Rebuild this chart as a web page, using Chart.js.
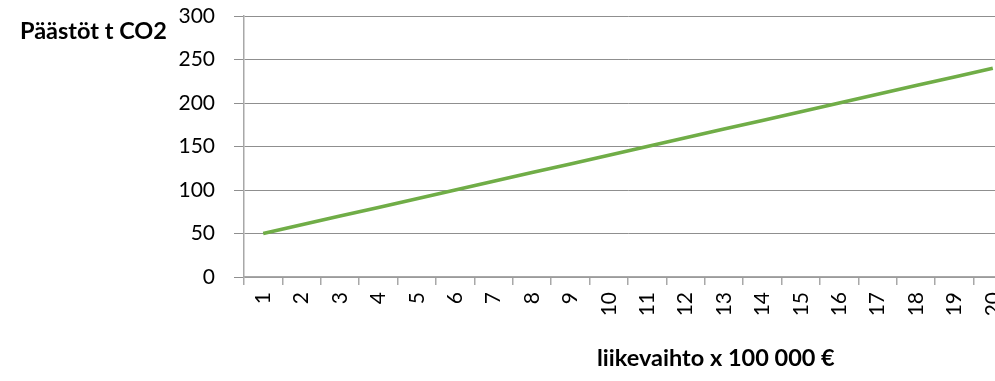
<!DOCTYPE html>
<html>
<head>
<meta charset="utf-8">
<script src="https://cdn.jsdelivr.net/npm/chart.js@4/dist/chart.umd.min.js"></script>
<style>
  html, body { margin: 0; padding: 0; background: #fff; overflow: hidden; width: 995px; height: 381px; }
  #wrap { position: absolute; left: 0; top: 0; width: 1012px; height: 381px; }
  .title { position: absolute; font-family: Lato, "Open Sans", sans-serif; font-weight: bold; color: #000; white-space: nowrap; line-height: 1; font-size: 23.5px; }
  #ytitle { left: 20px; top: 19px; }
  #xtitle { left: 597px; top: 346px; }
</style>
</head>
<body>
<div id="wrap"><canvas id="c" width="1012" height="381"></canvas></div>
<div class="title" id="ytitle">Päästöt t CO2</div>
<div class="title" id="xtitle">liikevaihto x 100 000 €</div>
<script>
const categories = ["1","2","3","4","5","6","7","8","9","10","11","12","13","14","15","16","17","18","19","20"];
const emissions = [50,60,70,80,90,100,110,120,130,140,150,160,170,180,190,200,210,220,230,240];
const yTicks = [0,50,100,150,200,250,300];

const gridColor = '#8f8f8f';
const axisColor = '#a8a8a8';
new Chart(document.getElementById('c'), {
  type: 'line',
  data: {
    labels: categories,
    datasets: [{
      data: emissions,
      borderColor: '#70ad47',
      borderWidth: 3.6,
      pointRadius: 0,
      tension: 0,
      fill: false
    }]
  },
  options: {
    responsive: false,
    animation: false,
    events: [],
    layout: { padding: { left: 0, right: 0, top: 16, bottom: 0 } },
    plugins: { legend: { display: false }, tooltip: { enabled: false }, title: { display: false } },
    scales: {
      x: {
        offset: true,
        grid: { offset: true, drawOnChartArea: false, drawTicks: true, tickLength: 8, color: axisColor, lineWidth: 1.5 },
        border: { color: axisColor, width: 1.5 },
        ticks: { minRotation: 90, maxRotation: 90, autoSkip: false, padding: 7, color: '#000', font: { family: 'Lato', size: 21 } },
        afterFit: (s) => { s.height = 104; s.paddingLeft = 0; s.paddingRight = 0; }
      },
      y: {
        min: 0, max: 300,
        afterBuildTicks: (s) => { s.ticks = yTicks.map(v => ({ value: v })); },
        grid: { color: gridColor, lineWidth: 1, tickLength: 10 },
        border: { color: axisColor, width: 1.5 },
        ticks: { padding: 19, color: '#000', font: { family: 'Lato', size: 21 } },
        afterFit: (s) => { s.width = 244; s.paddingTop = 0; s.paddingBottom = 0; }
      }
    }
  }
});
</script>
</body>
</html>
